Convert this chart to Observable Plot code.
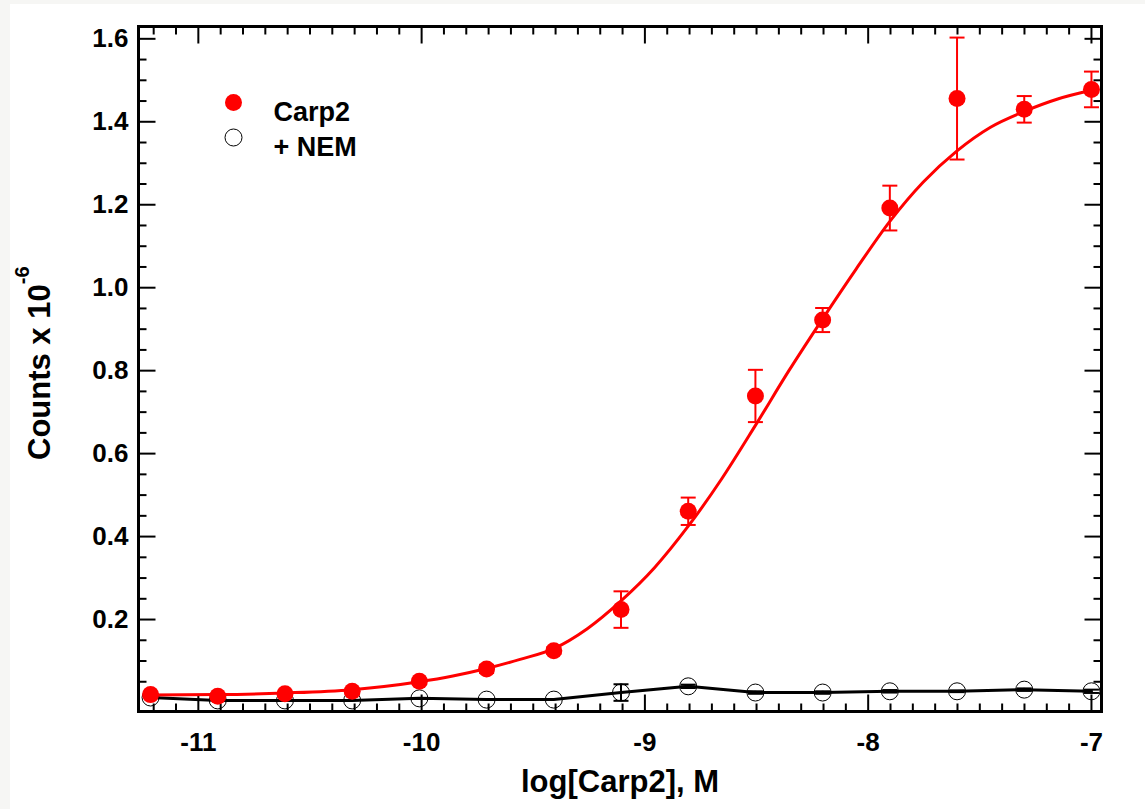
<!DOCTYPE html>
<html><head><meta charset="utf-8">
<script src="https://cdn.jsdelivr.net/npm/d3@7"></script>
<script src="https://cdn.jsdelivr.net/npm/@observablehq/plot@0.6"></script>
<style>
html,body{margin:0;padding:0;background:#f6f6f4;}
#chart{position:absolute;left:10px;top:4px;width:1135px;height:805px;background:#fff;}
svg{display:block;}
</style></head><body><div id="chart"></div>
<script>
// ---- data ----
const seriesNames = ["Carp2", "+ NEM"];
const xTitle = "log[Carp2], M";
const yTitle = "Counts x 10";
const yTitleExp = "-6";

const logConc = [-11.214, -10.913, -10.612, -10.311, -10.010, -9.709, -9.408, -9.107, -8.806, -8.505, -8.204, -7.903, -7.602, -7.301, -7.0];
const carpMean = [0.019, 0.015, 0.021, 0.027, 0.051, 0.081, 0.125, 0.224, 0.461, 0.739, 0.922, 1.192, 1.456, 1.430, 1.478];
const carpErr  = [0.003, 0.003, 0.003, 0.004, 0.004, 0.010, 0.008, 0.044, 0.033, 0.063, 0.029, 0.054, 0.147, 0.032, 0.043];
const nemMean  = [0.012, 0.005, 0.005, 0.005, 0.010, 0.007, 0.007, 0.024, 0.039, 0.024, 0.024, 0.027, 0.027, 0.031, 0.027];
const nemErr   = [0, 0, 0, 0, 0, 0, 0, 0.020, 0.004, 0.003, 0.003, 0.003, 0.002, 0.003, 0.004];

// fitted curve, points
const fitX = [-11.214, -10.913, -10.612, -10.311, -10.010, -9.860, -9.709, -9.559, -9.408, -9.258, -9.107, -8.957, -8.806, -8.655, -8.505, -8.355, -8.204, -8.054, -7.903, -7.753, -7.602, -7.452, -7.301, -7.151, -7.0];
const fitY = [0.018, 0.019, 0.023, 0.031, 0.050, 0.064, 0.082, 0.104, 0.130, 0.178, 0.245, 0.325, 0.425, 0.540, 0.668, 0.800, 0.925, 1.045, 1.160, 1.255, 1.330, 1.387, 1.425, 1.455, 1.476];

const xMajor = [-11, -10, -9, -8, -7];
const xMinor = d3.range(-112, -69).filter(k => k % 10 !== 0).map(k => k / 10);
const yMajor = [0.2, 0.4, 0.6, 0.8, 1.0, 1.2, 1.4, 1.6];
const yMinor = d3.range(1, 33).filter(k => k % 4 !== 0).map(k => k / 20);

// ---- build ----
const red = "#ff0000";
const font = "'Liberation Sans', Arial, sans-serif";

const carp = logConc.map((x, i) => ({x, y: carpMean[i], lo: carpMean[i] - carpErr[i], hi: carpMean[i] + carpErr[i]}));
const nem = logConc.map((x, i) => ({x, y: nemMean[i], e: nemErr[i], lo: nemMean[i] - nemErr[i], hi: nemMean[i] + nemErr[i]}));
const nemE = nem.filter(d => d.e > 0);
const fit = fitX.map((x, i) => ({x, y: fitY[i]}));

const seg = (dx, dy) => ({draw(ctx, l) { ctx.moveTo(0, 0); ctx.lineTo(dx * l, dy * l); }});
const capShape = {draw(ctx, l) { ctx.moveTo(-l / 2, 0); ctx.lineTo(l / 2, 0); }};

const tickCommon = {anchor: "start", stroke: "black", strokeWidth: 2, strokeLinecap: "butt"};
const xTicks = (vals, len) => [
  Plot.vector(vals, {x: d => d, frameAnchor: "bottom", length: len, shape: seg(0, -1), ...tickCommon}),
  Plot.vector(vals, {x: d => d, frameAnchor: "top", length: len, shape: seg(0, 1), ...tickCommon})
];
const yTicks = (vals, len) => [
  Plot.vector(vals, {y: d => d, frameAnchor: "left", length: len, shape: seg(1, 0), ...tickCommon}),
  Plot.vector(vals, {y: d => d, frameAnchor: "right", length: len, shape: seg(-1, 0), ...tickCommon})
];
const errBars = (data, color) => [
  Plot.ruleX(data, {x: "x", y1: "lo", y2: "hi", stroke: color, strokeWidth: 2}),
  Plot.vector(data, {x: "x", y: "hi", length: 15, anchor: "start", shape: capShape, stroke: color, strokeWidth: 2, strokeLinecap: "butt"}),
  Plot.vector(data, {x: "x", y: "lo", length: 15, anchor: "start", shape: capShape, stroke: color, strokeWidth: 2, strokeLinecap: "butt"})
];

const plot = Plot.plot({
  width: 1135,
  height: 805,
  marginLeft: 128,
  marginRight: 44,
  marginTop: 22,
  marginBottom: 98,
  style: {fontFamily: font, color: "black", background: "white"},
  x: {domain: [-11.268, -6.955]},
  y: {domain: [-0.0217, 1.6297]},
  marks: [
    ...xTicks(xMinor, 8), ...xTicks(xMajor, 17),
    ...yTicks(yMinor, 8), ...yTicks(yMajor, 17),
    Plot.axisX(xMajor, {anchor: "bottom", tickSize: 0, tickPadding: 21, fontSize: 26, fontWeight: "bold", tickFormat: d => String(d), label: null}),
    Plot.axisY(yMajor, {anchor: "left", tickSize: 0, tickPadding: 10, fontSize: 26, fontWeight: "bold", tickFormat: d => d.toFixed(1), label: null}),
    Plot.frame({stroke: "black", strokeWidth: 3}),
    // + NEM
    Plot.line(nem, {x: "x", y: "y", stroke: "black", strokeWidth: 3}),
    ...errBars(nemE, "black"),
    Plot.dot(nem, {x: "x", y: "y", r: 8.5, stroke: "black", strokeWidth: 1, fill: "none"}),
    // Carp2
    Plot.line(fit, {x: "x", y: "y", stroke: red, strokeWidth: 3, curve: "monotone-x"}),
    ...errBars(carp, red),
    Plot.dot(carp, {x: "x", y: "y", r: 8.5, fill: red}),
    // legend
    Plot.dot([seriesNames[0]], {frameAnchor: "top-left", dx: 95, dy: 76, r: 8.5, fill: red}),
    Plot.dot([seriesNames[1]], {frameAnchor: "top-left", dx: 95, dy: 111, r: 8.5, stroke: "black", strokeWidth: 1, fill: "none"}),
    Plot.text([seriesNames[0]], {text: d => d, frameAnchor: "top-left", dx: 135, dy: 75, textAnchor: "start", fontSize: 27, fontWeight: "bold"}),
    Plot.text([seriesNames[1]], {text: d => d, frameAnchor: "top-left", dx: 135, dy: 110, textAnchor: "start", fontSize: 27, fontWeight: "bold"}),
    // x title
    Plot.text([xTitle], {text: d => d, frameAnchor: "bottom", dy: 80, lineAnchor: "bottom", fontSize: 31, fontWeight: "bold"})
  ]
});
document.getElementById("chart").appendChild(plot);

// y title with superscript
const svg = d3.select(plot);
const t = svg.append("text")
  .attr("transform", "translate(40,456) rotate(-90)")
  .attr("text-anchor", "start")
  .attr("font-family", font)
  .attr("font-weight", "bold")
  .attr("font-size", 31)
  .attr("fill", "black");
t.append("tspan").text(yTitle);
t.append("tspan").attr("dy", -21).attr("font-size", 20).text(yTitleExp);
</script>
</body></html>
